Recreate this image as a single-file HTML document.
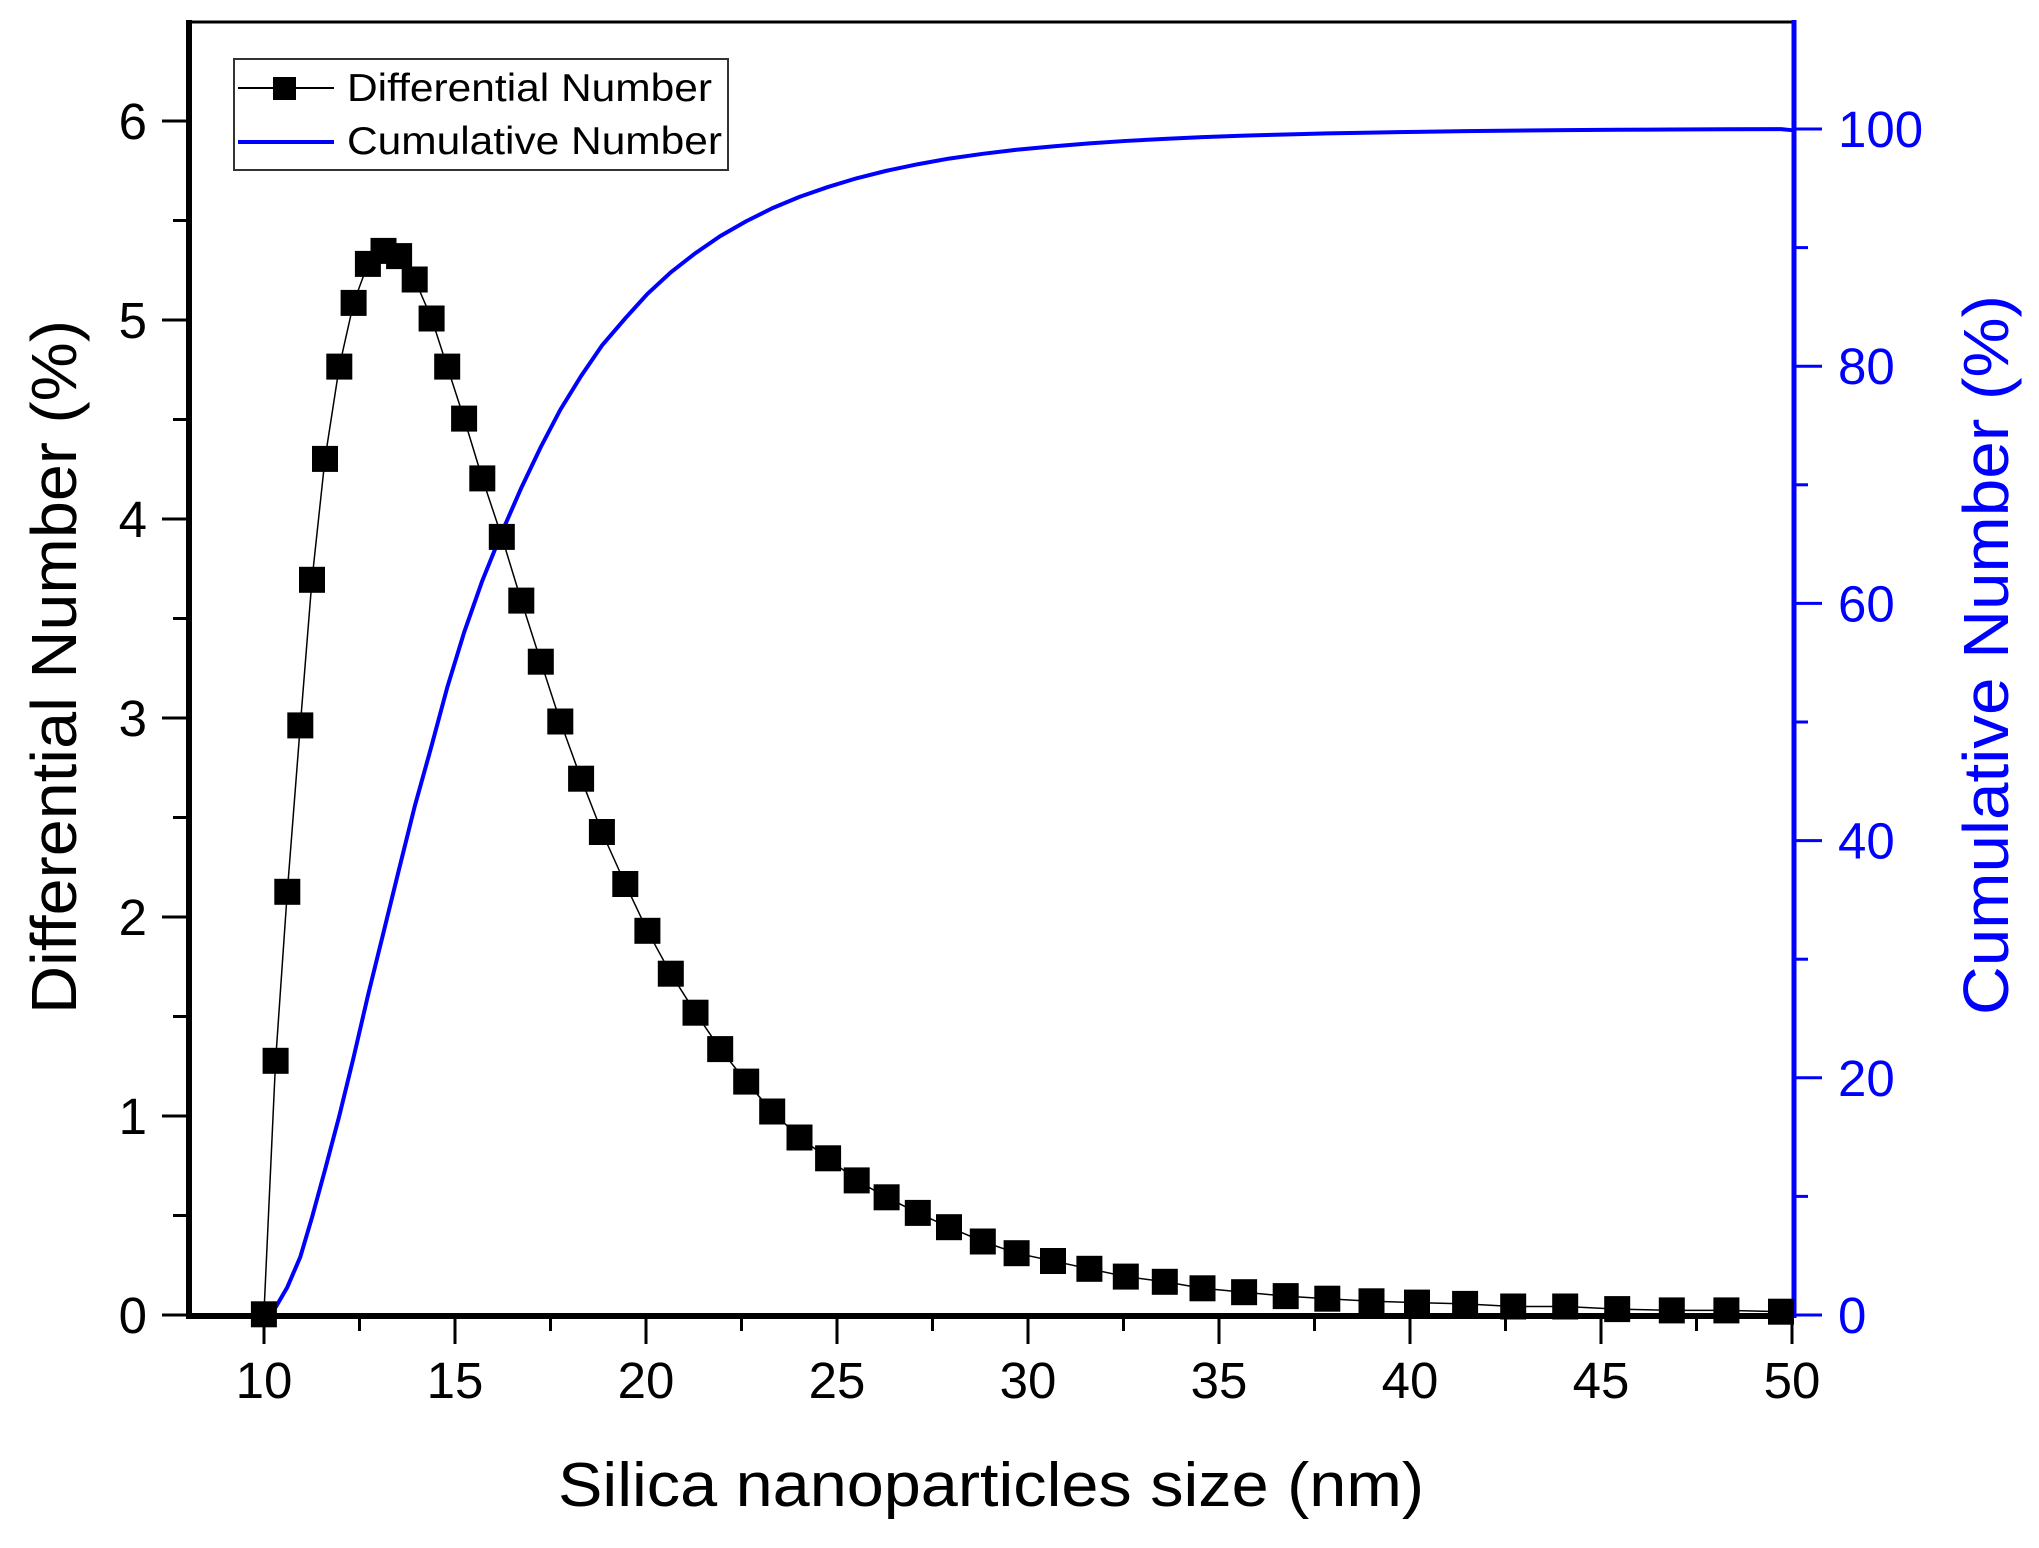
<!DOCTYPE html>
<html><head><meta charset="utf-8"><style>
html,body{margin:0;padding:0;background:#fff;}
svg{display:block;font-family:"Liberation Sans",Arial,sans-serif;}
</style></head><body>
<svg id="s" width="2039" height="1548" viewBox="0 0 2039 1548" xmlns="http://www.w3.org/2000/svg">
<rect width="2039" height="1548" fill="#fff"/>
<line x1="189" y1="22" x2="1794" y2="22" stroke="#000" stroke-width="3"/>
<line x1="189" y1="20" x2="189" y2="1318" stroke="#000" stroke-width="6"/>
<line x1="186" y1="1316" x2="1794" y2="1316" stroke="#000" stroke-width="6"/>
<line x1="1794" y1="20" x2="1794" y2="1318" stroke="#0000ff" stroke-width="5"/>
<g id="ticks"></g>
<g id="series"></g>
<rect x="234" y="59" width="494" height="111" fill="#fff" stroke="#333" stroke-width="2"/>
<line x1="238" y1="88" x2="334" y2="88" stroke="#000" stroke-width="2"/>
<rect x="273" y="77" width="23" height="23" fill="#000"/>
<line x1="238" y1="142" x2="334" y2="142" stroke="#0000ff" stroke-width="4"/>
<text x="347" y="101" font-size="39" textLength="365" lengthAdjust="spacingAndGlyphs">Differential Number</text>
<text x="347" y="154" font-size="39" textLength="375" lengthAdjust="spacingAndGlyphs">Cumulative Number</text>
<text x="991" y="1506" font-size="62" text-anchor="middle" textLength="866" lengthAdjust="spacingAndGlyphs">Silica nanoparticles size (nm)</text>
<text transform="translate(76,667) rotate(-90)" font-size="64" text-anchor="middle" textLength="694" lengthAdjust="spacingAndGlyphs">Differential Number (%)</text>
<text transform="translate(2008,655) rotate(-90)" font-size="64" fill="#0000ff" text-anchor="middle" textLength="720" lengthAdjust="spacingAndGlyphs">Cumulative Number (%)</text>
</svg>
<script>
var NS="http://www.w3.org/2000/svg";
function el(p,t,a,txt){var e=document.createElementNS(NS,t);for(var k in a)e.setAttribute(k,a[k]);if(txt!=null)e.textContent=txt;p.appendChild(e);return e;}
var T=document.getElementById('ticks'),S=document.getElementById('series');
function X(x){return 264+(x-10)*38.2;}
function Y(y){return 1315-y*199;}
function YR(p){return 1315-p*11.86;}
for(var x=10;x<=50;x+=2.5){var maj=(x%5==0);el(T,'line',{x1:X(x),y1:1316,x2:X(x),y2:maj?1344:1331,stroke:'#000','stroke-width':3});
 if(maj)el(T,'text',{x:X(x),y:1398,'font-size':51,'text-anchor':'middle'},String(x));}
for(var y=0;y<=6;y+=0.5){var maj=(y%1==0);el(T,'line',{x1:maj?162:173,y1:Y(y),x2:189,y2:Y(y),stroke:'#000','stroke-width':3});
 if(maj)el(T,'text',{x:147,y:Y(y)+18,'font-size':51,'text-anchor':'end'},String(y));}
for(var p=0;p<=100;p+=10){var maj=(p%20==0);el(T,'line',{x1:1794,y1:YR(p),x2:maj?1822:1808,y2:YR(p),stroke:'#0000ff','stroke-width':3});
 if(maj)el(T,'text',{x:1838,y:YR(p)+18,'font-size':51,fill:'#0000ff'},String(p));}
var d=[[203,1011],[212,816],[221,686],[231,558],[240,446],[250,353],[261,282],[272,233],[283,203],[295,193],[307,197],[319,215],[332,245],[344,282],[357,322],[371,368],[386,413],[401,462],[416,509],[431,555],[447,599],[463,640],[481,680],[498,716],[516,749],[535,779],[554,807],[574,832],[594,855],[615,875],[637,891],[659,908],[682,921],[706,933],[730,944],[756,955],[782,964],[810,970],[838,976],[866,982],[896,986],[925,991],[957,994],[989,997],[1021,999],[1055,1001],[1090,1002],[1127,1003],[1164,1005],[1204,1005],[1244,1007],[1286,1008],[1328,1008],[1370,1009]];
var pts=d.map(function(q){return [q[0]*1.3,q[1]*1.3];});
var vals=d.map(function(q){return (1011-q[1])/153;});
var tot=vals.reduce(function(a,b){return a+b;},0);
var cum=0,cp=[];
for(var i=0;i<vals.length;i++){var c=(cum+vals[i]/2)/tot*100;if(i==0)c=0;cp.push([pts[i][0],YR(c)]);cum+=vals[i];}
cp.push([1792,YR(99.9)]);
el(S,'polyline',{points:pts.map(function(p){return p.join(',')}).join(' '),fill:'none',stroke:'#000','stroke-width':1.5});
el(S,'polyline',{points:cp.map(function(p){return p.join(',')}).join(' '),fill:'none',stroke:'#0000ff','stroke-width':4,'stroke-linejoin':'round'});
pts.forEach(function(p){el(S,'rect',{x:p[0]-13,y:p[1]-13,width:26,height:26,fill:'#000'});});
</script>
</body></html>
